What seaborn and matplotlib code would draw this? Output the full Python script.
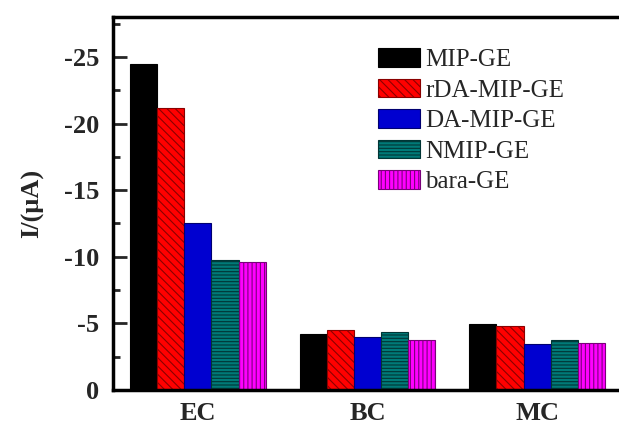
import matplotlib
matplotlib.use("Agg")
import matplotlib.pyplot as plt
import seaborn as sns
import pandas as pd
from matplotlib.ticker import MultipleLocator

categories = ["EC", "BC", "MC"]
series = ["MIP-GE", "rDA-MIP-GE", "DA-MIP-GE", "NMIP-GE", "bara-GE"]
values = {
    "MIP-GE":     [-24.5, -4.23, -4.95],
    "rDA-MIP-GE": [-21.2, -4.48, -4.78],
    "DA-MIP-GE":  [-12.5, -3.98, -3.48],
    "NMIP-GE":    [-9.78, -4.38, -3.78],
    "bara-GE":    [-9.62, -3.76, -3.55],
}
colors = ["#000000", "#ff0000", "#0000d0", "#007a78", "#ff00ff"]
edgecolors = ["#000000", "#8a0000", "#000070", "#003535", "#7a007a"]
hatches = ["", "\\\\\\\\", "", "-----", "||||"]

rows = []
for s in series:
    for c, v in zip(categories, values[s]):
        rows.append({"cat": c, "series": s, "I": v})
df = pd.DataFrame(rows)

sns.set_style("white")
plt.rcParams["font.family"] = ["Liberation Serif", "DejaVu Serif"]
plt.rcParams["axes.unicode_minus"] = False
plt.rcParams["hatch.linewidth"] = 0.8

fig = plt.figure(figsize=(6.19, 4.25), dpi=100)
ax = fig.add_axes([113 / 619, 1 - 390 / 425, (622 - 113) / 619, (390 - 17) / 425])

sns.barplot(data=df, x="cat", y="I", hue="series", order=categories,
            hue_order=series, palette=colors, width=0.8, saturation=1,
            legend=False, ax=ax)

for cont, ec, h in zip(ax.containers, edgecolors, hatches):
    for p in cont.patches:
        p.set_edgecolor(ec)
        p.set_linewidth(0.8)
        p.set_hatch(h)

ax.set_xlim(-0.5, 2.5)
ax.set_ylim(0, -28)
ax.yaxis.set_major_locator(MultipleLocator(5))
ax.yaxis.set_minor_locator(MultipleLocator(2.5))

for sp in ax.spines.values():
    sp.set_visible(True)
    sp.set_linewidth(2.5)
    sp.set_color("black")

ax.tick_params(axis="y", which="major", direction="in", length=10, width=2,
               labelsize=19, pad=10, left=True, right=False)
ax.tick_params(axis="y", which="minor", direction="in", length=5, width=2,
               left=True, right=False)
ax.tick_params(axis="x", which="both", bottom=False, top=False,
               labelsize=19, pad=5)
for lab in ax.get_xticklabels() + ax.get_yticklabels():
    lab.set_fontweight("bold")

ax.set_xlabel("")
ax.set_ylabel("I/(\u03bcA)", fontsize=19, fontweight="bold", labelpad=14)

ax.legend(ax.containers, series, loc="upper left",
          bbox_to_anchor=(375 / 619, 1 - 46 / 425), bbox_transform=fig.transFigure,
          frameon=False, fontsize=18, handlelength=1.7, handleheight=0.76,
          handletextpad=0.2, labelspacing=0.3, borderaxespad=0, borderpad=0.1)

fig.savefig("out.png", dpi=100)
